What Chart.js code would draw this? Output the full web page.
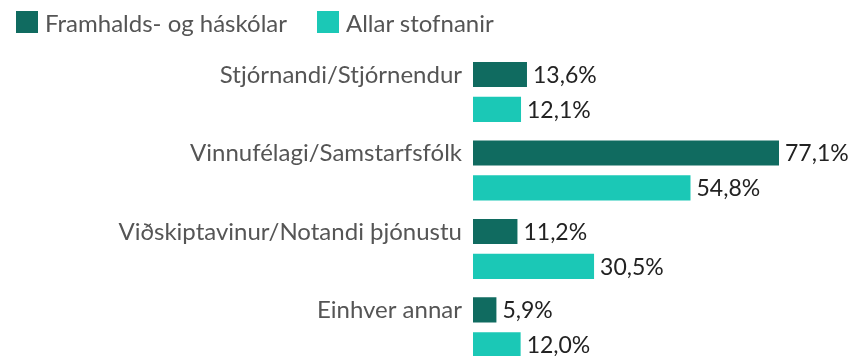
<!DOCTYPE html>
<html>
<head>
<meta charset="utf-8">
<script src="https://cdn.jsdelivr.net/npm/chart.js@4"></script>
<style>
  html, body { margin: 0; padding: 0; background: #fff; overflow: hidden; }
  .wrap { position: relative; width: 856px; height: 392px; }
  .legend { position: absolute; top: 11px; left: 16px; display: flex; font: 24px Lato; color: #555; z-index: 1; }
  .legend span { display: flex; align-items: center; margin-right: 30px; height: 22px; }
  .legend i { display: inline-block; width: 22px; height: 22px; margin-right: 7px; }
</style>
</head>
<body>
<div class="wrap">
  <div class="legend" id="legend"></div>
  <canvas id="myChart"></canvas>
</div>
<script>
const labels = [
	'Stjórnandi/Stjórnendur',
	'Vinnufélagi/Samstarfsfólk',
	'Viðskiptavinur/Notandi þjónustu',
	'Einhver annar'
];
const seriesNames = ['Framhalds- og háskólar', 'Allar stofnanir'];
const skolar = [13.6, 77.1, 11.2, 5.9];
const allar = [12.1, 54.8, 30.5, 12.0];
const colors = ['#106b60', '#1bc8b6'];

const FONT = 'Lato';

//value labels at the end of each bar
const barValues = {
	id: 'barValues',
	afterDatasetsDraw(chart) {
		const ctx = chart.ctx;
		ctx.save();
		ctx.font = '23px ' + FONT;
		ctx.fillStyle = '#222';
		ctx.textAlign = 'left';
		ctx.textBaseline = 'middle';
		chart.data.datasets.forEach((ds, i) => {
			chart.getDatasetMeta(i).data.forEach((bar, j) => {
				const txt = ds.data[j].toFixed(1).replace('.', ',') + '%';
				ctx.fillText(txt, bar.x + 6, bar.y + 1);
			});
		});
		ctx.restore();
	}
};

const cht = document.getElementById('myChart').getContext('2d');
const myChart = new Chart(cht, {
	type: 'bar',
	data: {
		labels,
		datasets: [
			{ label: seriesNames[0], data: skolar, backgroundColor: colors[0] },
			{ label: seriesNames[1], data: allar, backgroundColor: colors[1] }
		]
	},
	options: {
		indexAxis: 'y',
		responsive: true,
		maintainAspectRatio: false,
		animation: false,
		categoryPercentage: 0.89,
		barPercentage: 0.72,
		layout: { padding: { top: 52.75 } },
		plugins: {
			tooltip: { enabled: false },
			legend: { display: false }
		},
		scales: {
			x: { display: false, min: 0, max: 96.5 },
			y: {
				grid: { display: false, drawTicks: false },
				border: { display: false },
				ticks: {
					color: '#555',
					padding: 11,
					labelOffset: -17,
					font: { family: FONT, size: 24 }
				},
				afterFit(scale) { scale.width = 473; }
			}
		}
	},
	plugins: [barValues]
});

//legend built from the datasets
document.getElementById('legend').innerHTML = myChart.data.datasets
	.map(ds => '<span><i style="background:' + ds.backgroundColor + '"></i>' + ds.label + '</span>')
	.join('');
</script>
</body>
</html>
